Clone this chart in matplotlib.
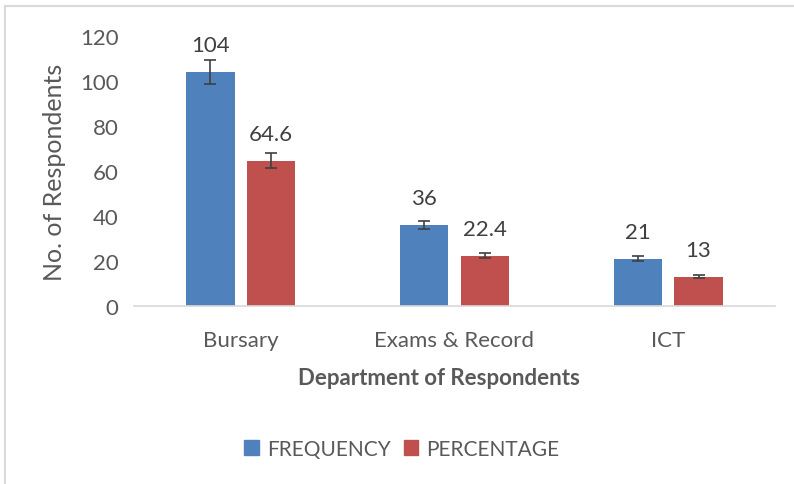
import numpy as np
import matplotlib.pyplot as plt
from matplotlib.patches import Patch
from matplotlib.lines import Line2D

plt.rcParams['font.family'] = ['Lato', 'DejaVu Sans']

# data
departments = ['Bursary', 'Exams & Record', 'ICT']
frequency = [104, 36, 21]
percentage = [64.6, 22.4, 13]
freq_labels = ['104', '36', '21']
pct_labels = ['64.6', '22.4', '13']

blue = '#4F81BD'
red = '#C0504D'
txt = '#595959'

fig = plt.figure(figsize=(7.94, 4.85), dpi=100)
ax = fig.add_axes([134/794, 1-307/485, (775-134)/794, (307-37)/485])

x = np.arange(len(departments))
w = 0.225
off = 0.142

err_kw = dict(ecolor='#404040', elinewidth=1.2, capsize=4, capthick=1.2)
b1 = ax.bar(x - off, frequency, w, color=blue, yerr=np.array(frequency)*0.05,
            error_kw=err_kw, label='FREQUENCY')
b2 = ax.bar(x + off, percentage, w, color=red, yerr=np.array(percentage)*0.05,
            error_kw=err_kw, label='PERCENTAGE')

for bars, labs in ((b1, freq_labels), (b2, pct_labels)):
    for rect, lab in zip(bars, labs):
        ax.annotate(lab, (rect.get_x() + rect.get_width()/2, rect.get_height()),
                    xytext=(0, 12), textcoords='offset points',
                    ha='center', va='bottom', fontsize=16, color='#404040')

ax.set_xlim(-0.5, 2.5)
ax.set_ylim(0, 120)
ax.set_yticks(range(0, 121, 20))
ax.set_xticks(x)
ax.set_xticklabels(departments)
ax.tick_params(axis='both', length=0, labelsize=16, labelcolor=txt)
ax.tick_params(axis='x', pad=17)
ax.tick_params(axis='y', pad=11)
for s in ['top', 'right', 'left']:
    ax.spines[s].set_visible(False)
ax.spines['bottom'].set_color('#D9D9D9')
ax.spines['bottom'].set_linewidth(1.2)

ax.set_ylabel('No. of Respondents', fontsize=18, color=txt, labelpad=10)
fig.text(439/794, 1-379/485, 'Department of Respondents', fontsize=16,
         fontweight='bold', color=txt, ha='center', va='center')

handles = [Patch(color=blue), Patch(color=red)]
fig.legend(handles, ['FREQUENCY', 'PERCENTAGE'], loc='center',
           bbox_to_anchor=(402/794, 1-450/485), ncol=2, frameon=False,
           fontsize=15, labelcolor=txt, handlelength=0.7, handleheight=0.7,
           handletextpad=0.4, columnspacing=0.6)

# chart border (top and left visible)
fig.add_artist(Line2D([5/794, 1], [1-7/485, 1-7/485], color='#D9D9D9', lw=1.5,
                      transform=fig.transFigure))
fig.add_artist(Line2D([5/794, 5/794], [0, 1-7/485], color='#D9D9D9', lw=1.5,
                      transform=fig.transFigure))

fig.savefig('out.png', dpi=100)
